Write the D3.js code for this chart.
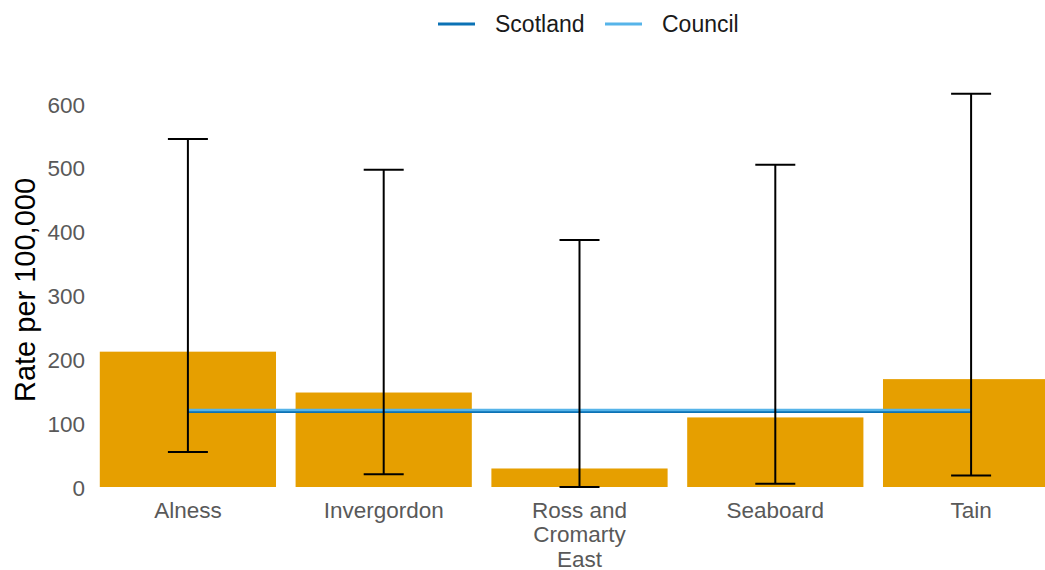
<!DOCTYPE html>
<html>
<head>
<meta charset="utf-8">
<script src="https://cdn.jsdelivr.net/npm/d3@7"></script>
<style>
  html, body { margin: 0; padding: 0; background: #fff; }
  svg { display: block; font-family: "Liberation Sans", Arial, sans-serif; }
</style>
</head>
<body>
<svg id="chart" width="1045" height="570"></svg>
<script>
const categories = ["Alness", "Invergordon", "Ross and Cromarty East", "Seaboard", "Tain"];
const categoryLines = [["Alness"], ["Invergordon"], ["Ross and", "Cromarty", "East"], ["Seaboard"], ["Tain"]];
const rates = [212, 148, 29, 109, 169];
const lowerCI = [55, 20, 0, 5, 18];
const upperCI = [545, 497, 387, 505, 616];
const scotlandRate = [118, 118, 118, 118, 118];
const councilRate = [120.5, 120.5, 120.5, 120.5, 120.5];
const yTicks = [0, 100, 200, 300, 400, 500, 600];
const seriesNames = ["Scotland", "Council"];
const seriesColors = ["#0b72b5", "#56b4e9"];

const svg = d3.select("#chart");
const W = 1045, H = 570;

const x = d3.scaleBand().domain(categories).range([90, 1069]).paddingInner(0.1).paddingOuter(0.05);
const y = d3.scaleLinear().domain([0, 600]).range([487, 104]);

const defs = svg.append("defs");
defs.append("clipPath").attr("id", "clip").append("rect").attr("x", 0).attr("y", 0).attr("width", W).attr("height", H);

const g = svg.append("g").attr("clip-path", "url(#clip)");

// bars
g.selectAll("rect.bar").data(categories).join("rect")
  .attr("class", "bar")
  .attr("x", d => x(d))
  .attr("width", x.bandwidth())
  .attr("y", (d, i) => y(rates[i]))
  .attr("height", (d, i) => y(0) - y(rates[i]))
  .attr("fill", "#E69F00");

// reference lines
const cx = d => x(d) + x.bandwidth() / 2;
const lineGen = arr => d3.line().x((d) => cx(d)).y((d, i) => y(arr[i]))(categories);
g.append("path").attr("d", lineGen(scotlandRate)).attr("fill", "none").attr("stroke", seriesColors[0]).attr("stroke-width", 2.5);
g.append("path").attr("d", lineGen(councilRate)).attr("fill", "none").attr("stroke", seriesColors[1]).attr("stroke-width", 2.5);

// error bars
const eb = g.selectAll("g.eb").data(categories).join("g").attr("class", "eb");
eb.append("line")
  .attr("x1", d => cx(d)).attr("x2", d => cx(d))
  .attr("y1", (d, i) => y(upperCI[i])).attr("y2", (d, i) => y(lowerCI[i]))
  .attr("stroke", "#000").attr("stroke-width", 2);
eb.append("line")
  .attr("x1", d => cx(d) - 20).attr("x2", d => cx(d) + 20)
  .attr("y1", (d, i) => y(upperCI[i])).attr("y2", (d, i) => y(upperCI[i]))
  .attr("stroke", "#000").attr("stroke-width", 2);
eb.append("line")
  .attr("x1", d => cx(d) - 20).attr("x2", d => cx(d) + 20)
  .attr("y1", (d, i) => y(lowerCI[i])).attr("y2", (d, i) => y(lowerCI[i]))
  .attr("stroke", "#000").attr("stroke-width", 2);

// y axis
const yAxis = svg.append("g").attr("transform", "translate(85,0)")
  .call(d3.axisLeft(y).tickValues(yTicks).tickSize(0).tickPadding(0));
yAxis.select(".domain").remove();
yAxis.selectAll("text").attr("fill", "#595959").attr("font-size", 22.5)
  .attr("font-family", "Liberation Sans, Arial, sans-serif").attr("dy", "0.36em");

// x axis
const xAxis = svg.append("g").attr("transform", "translate(0,487)")
  .call(d3.axisBottom(x).tickSize(0).tickFormat(""));
xAxis.select(".domain").remove();
xAxis.selectAll(".tick").each(function(d, i) {
  const t = d3.select(this).append("text")
    .attr("fill", "#595959").attr("font-size", 22.5).attr("text-anchor", "middle")
    .attr("font-family", "Liberation Sans, Arial, sans-serif");
  categoryLines[i].forEach((ln, j) => {
    t.append("tspan").attr("x", 0).attr("y", 30.5 + j * 24.5).text(ln);
  });
});

// y title
svg.append("text")
  .attr("transform", "translate(35,290) rotate(-90)")
  .attr("text-anchor", "middle")
  .attr("font-size", 29).attr("fill", "#000")
  .text("Rate per 100,000");

// legend
const legendX = [438, 605];
const lg = svg.append("g");
seriesNames.forEach((name, i) => {
  lg.append("line").attr("x1", legendX[i]).attr("x2", legendX[i] + 37).attr("y1", 24).attr("y2", 24)
    .attr("stroke", seriesColors[i]).attr("stroke-width", 3);
  lg.append("text").attr("x", legendX[i] + 57).attr("y", 32).attr("font-size", 23).attr("fill", "#1a1a1a").text(name);
});
</script>
</body>
</html>
